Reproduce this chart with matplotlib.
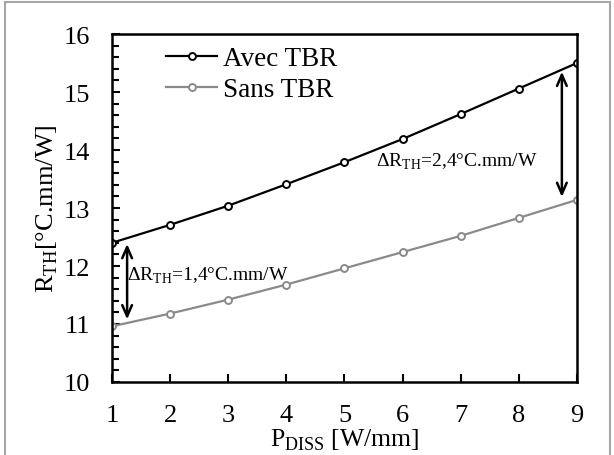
import matplotlib
matplotlib.use("Agg")
import matplotlib.pyplot as plt
from matplotlib.ticker import MultipleLocator
from matplotlib.patches import Rectangle

plt.rcParams['font.family'] = ['Liberation Serif', 'DejaVu Serif']
plt.rcParams['mathtext.fontset'] = 'custom'
plt.rcParams['mathtext.rm'] = 'Liberation Serif'

p_diss = [1, 2, 3, 4, 5, 6, 7, 8, 9]
rth_avec = [12.40, 12.71, 13.04, 13.41, 13.79, 14.19, 14.62, 15.06, 15.50]
rth_sans = [10.96, 11.18, 11.42, 11.68, 11.96, 12.24, 12.52, 12.83, 13.14]
labels = ["Avec TBR", "Sans TBR"]
delta_low = "1,4"
delta_high = "2,4"

fig = plt.figure(figsize=(6.14, 4.56), dpi=100)
ax = fig.add_axes([0.1824, 0.1601, 0.7573, 0.7631])

ax.plot(p_diss, rth_avec, color='black', lw=1.6, marker='o', ms=5,
        mfc='white', mec='black', mew=1.4, label=labels[0])
ax.plot(p_diss, rth_sans, color='#8a8a8a', lw=1.6, marker='o', ms=5,
        mfc='white', mec='#8a8a8a', mew=1.4, label=labels[1])

ax.set_xlim(1, 9)
ax.set_ylim(10, 16)
ax.xaxis.set_major_locator(MultipleLocator(1))
ax.yaxis.set_major_locator(MultipleLocator(1))
ax.yaxis.set_minor_locator(MultipleLocator(0.2))
ax.tick_params(axis='both', which='major', direction='in', length=6, width=1.5,
               labelsize=19)
ax.tick_params(axis='y', which='minor', direction='in', length=5, width=1.5)
ax.tick_params(axis='x', which='major', pad=16)
ax.tick_params(axis='y', which='major', pad=16)
for s in ax.spines.values():
    s.set_linewidth(1.8)

ax.set_ylabel(r"R$_{\mathrm{TH}}$[°C.mm/W]", fontsize=19, labelpad=2)
ax.set_xlabel(r"P$_{\mathrm{DISS}}$ [W/mm]", fontsize=18.5, labelpad=0)

# double arrows showing the gap between the two curves
arrow_kw = dict(arrowstyle='<->,head_length=0.8,head_width=0.35', lw=1.8,
                color='black', shrinkA=0, shrinkB=0)
ax.annotate('', xy=(1.26, rth_sans[0] + 0.12), xytext=(1.26, rth_avec[0] - 0.02),
            arrowprops=arrow_kw)
ax.annotate('', xy=(8.74, rth_sans[-1] + 0.05), xytext=(8.74, rth_avec[-1] - 0.15),
            arrowprops=arrow_kw)

ax.text(1.26, 11.84, r"ΔR$_{\mathrm{TH}}$=" + delta_low + "°C.mm/W", fontsize=14,
        va='center', ha='left')
ax.text(5.54, 13.81, r"ΔR$_{\mathrm{TH}}$=" + delta_high + "°C.mm/W", fontsize=14,
        va='center', ha='left')

leg = ax.legend(loc='upper left', bbox_to_anchor=(0.116, 0.965), frameon=False,
                fontsize=19.5, handlelength=1.9, handletextpad=0.22,
                labelspacing=0.23, borderaxespad=0, borderpad=0)

# grey frame around the figure
fig.patches.append(Rectangle((5 / 614, -0.05), 605 / 614, 1 - 3 / 456 + 0.05,
                             transform=fig.transFigure, fill=False,
                             edgecolor='#a6a6a6', lw=1.5))

fig.savefig("out.png", dpi=100)
